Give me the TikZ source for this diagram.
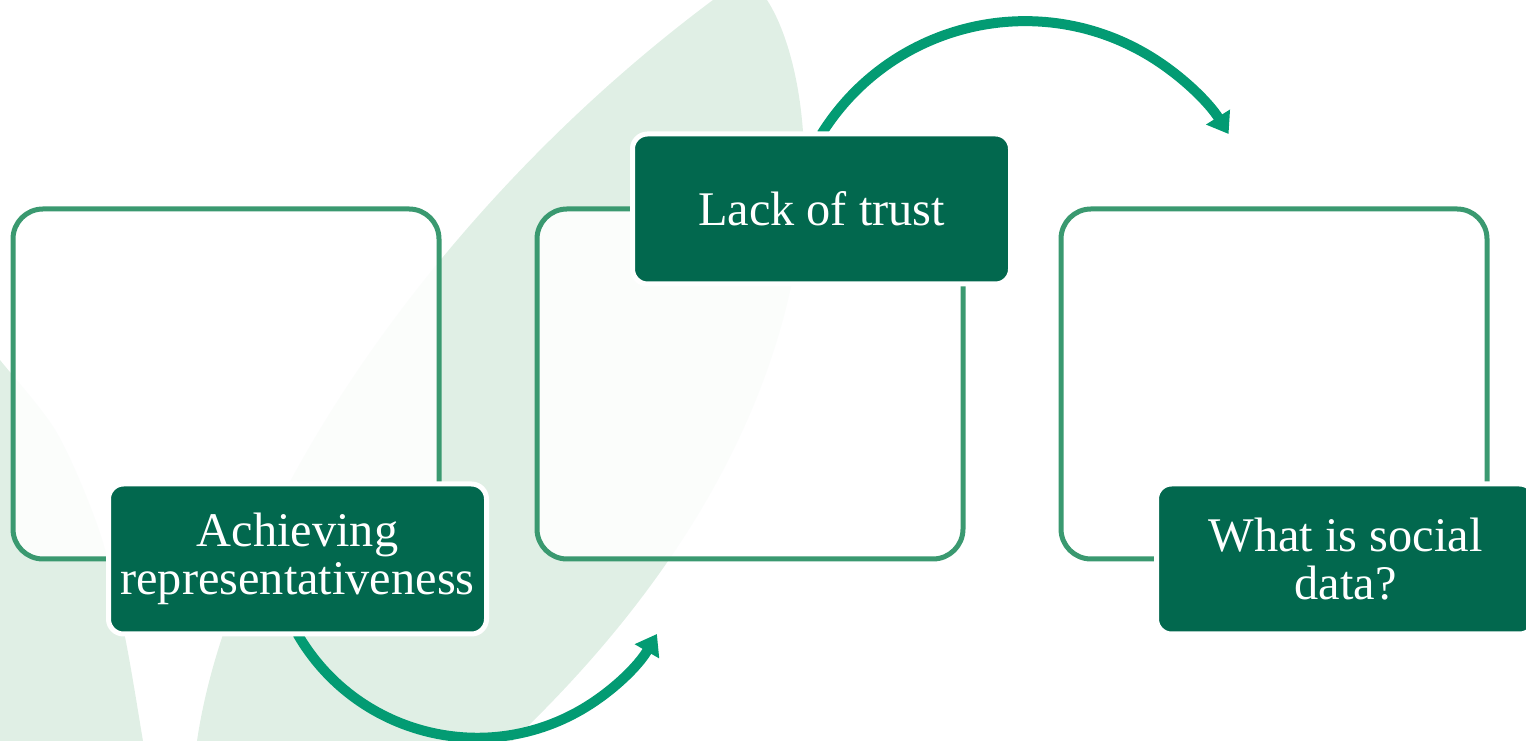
\documentclass[tikz,border=0pt]{standalone}
\usepackage{fontspec}
\setmainfont{Liberation Serif}
\usepackage{xcolor}
\usetikzlibrary{arrows.meta, positioning, backgrounds}
\definecolor{leafgreen}{RGB}{224,239,229}
\definecolor{boxline}{RGB}{58,153,112}
\definecolor{labelgreen}{RGB}{2,104,78}
\definecolor{arrowgreen}{RGB}{3,155,115}
\tikzset{Cycle/.style = {% styles for the three step cycle
     panel/.style = {rectangle, draw=boxline, line width=1mm,
                     fill=white, fill opacity=0.88, rounded corners=6mm,
                     minimum width=8.52cm, minimum height=7cm, outer sep=0pt},
     topic/.style = {rectangle, draw=white, line width=1mm, fill=labelgreen,
                     text=white, rounded corners=3mm, outer sep=0pt,
                     minimum width=7.56cm, minimum height=3cm, inner sep=0pt,
                     align=center, font=\fontsize{27.5}{27.5}\selectfont},
      turn/.style = {draw=arrowgreen, line width=2mm,
                     -{Triangle[length=4mm, width=5.4mm]}}}
        }

\begin{document}
\begin{tikzpicture}[Cycle,
  node distance = 1.96cm]
\useasboundingbox (0,0) rectangle (30.52,14.82);

% panels
\node (panel1) [panel] at (4.52,7.14) {};
\node (panel2) [panel, right=of panel1] {};
\node (panel3) [panel, right=of panel2] {};
% topics
\node (topic1) [topic] at ([xshift=1.43cm]panel1.south) {Achieving\\representativeness};
\node (topic2) [topic] at ([xshift=1.43cm]panel2.north) {Lack of trust};
\node (topic3) [topic] at ([xshift=1.43cm]panel3.south) {What is social\\data?};

% leaves and arrows behind
\begin{scope}[on background layer]
\fill[leafgreen] plot[smooth] coordinates {(-0.2,7.9) (0,7.62) (1.14,6.16) (2.0,4.16) (2.5,2.08) (2.86,0) (2.9,-0.2)}
    -- (-0.2,-0.2) -- cycle;
\fill[leafgreen] (3.94,0) .. controls (4.6,4.5) and (8.6,10.6) .. (14.26,14.82) -- (15.34,14.82)
    .. controls (16.4,13.2) and (17.4,6.8) .. (10.25,0) -- cycle;
\draw[turn] (topic1.south) arc[start angle=210, end angle=330, radius=4.15cm];
\draw[turn] (topic2.north) arc[start angle=148, end angle=32, radius=4.8cm];
\end{scope}
\end{tikzpicture}
\end{document}
